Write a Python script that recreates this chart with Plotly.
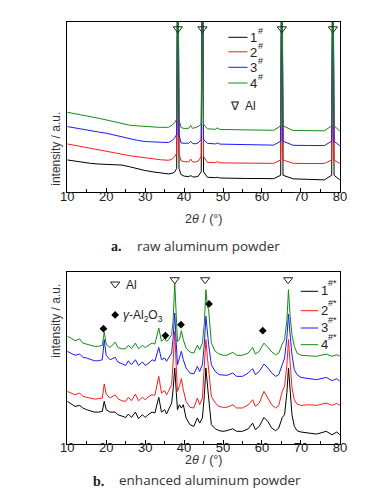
import plotly.graph_objects as go

# ---------------- Panel a: raw aluminum powder ----------------
two_theta_a = [10, 12, 14, 16, 18, 20, 22, 24, 26, 28, 30, 32, 34, 36, 37, 37.6, 38.1, 38.4, 38.7,
               39.2, 40, 41.2, 41.7, 42.2, 43, 43.6, 44.4, 44.7, 45.0, 46, 48, 48.6, 49.2, 52, 56, 60,
               63, 64.8, 65.1, 65.4, 68, 72, 76, 77.9, 78.2, 78.5, 80]
a_1 = [19.0, 18.3, 17.5, 17.0, 16.6, 16.3, 16.2, 16.0, 15.0, 13.8, 12.8, 12.0, 11.3, 10.8, 11.2, 12.0, 14, 160, 14,
       10.5, 9.5, 9.2, 9.8, 9.1, 9.0, 9.4, 12, 160, 12, 8.8, 8.6, 8.8, 8.4, 8.2, 8.1, 8.1,
       8.0, 10, 160, 10, 7.9, 7.6, 7.3, 10, 160, 10, 7.3]
a_2 = [28.4, 27.6, 26.8, 26.0, 25.2, 24.3, 23.3, 22.4, 21.5, 20.8, 20.2, 19.6, 19.1, 18.8, 19.5, 21.0, 23, 160, 23,
       18.5, 18.0, 17.9, 19.5, 17.8, 17.8, 18.3, 21, 160, 21, 17.6, 17.4, 18.0, 17.3, 17.2, 17.1, 17.0,
       17.0, 19, 160, 19, 17.0, 16.9, 16.9, 19, 160, 19, 16.9]
a_3 = [38.6, 37.7, 36.9, 36.1, 35.4, 34.7, 33.6, 32.4, 31.4, 30.5, 29.8, 29.5, 29.2, 29.2, 30.5, 32.0, 34, 160, 34,
       29.0, 28.8, 28.8, 30.0, 28.6, 28.5, 29.0, 31, 160, 31, 28.8, 28.4, 29.0, 28.3, 28.1, 27.9, 27.8,
       27.7, 30, 160, 30, 27.6, 27.5, 27.4, 30, 160, 30, 27.3]
a_4 = [47.0, 46.2, 45.3, 44.5, 43.5, 42.5, 41.4, 40.2, 39.4, 39.0, 38.6, 38.3, 38.1, 38.2, 39.5, 41.0, 43, 160, 43,
       38.0, 37.5, 37.6, 39.2, 37.5, 38.2, 38.6, 40, 160, 40, 37.3, 37.0, 37.8, 36.9, 36.7, 36.6, 36.5,
       36.4, 39, 160, 39, 36.3, 36.2, 36.1, 39, 160, 39, 36.0]
al_peaks_a = [38.4, 44.7, 65.1, 78.2]
al_marker_level_a = [96, 96, 96, 96]

# ---------------- Panel b: enhanced aluminum powder ----------------
two_theta_b = [10, 11, 12, 13.2, 14, 15, 16, 17, 18, 19, 19.5, 20, 21, 22.3, 23, 24, 25, 25.7, 26.5, 27.5,
               28.3, 29.3, 30, 31, 31.8, 32.5, 33.5, 34.2, 35, 35.5, 36, 36.8, 37.2, 37.6, 38.0, 38.3,
               38.8, 39.3, 39.8, 40.5, 41.5, 42.5, 43.4, 44, 44.7, 45.2, 45.6, 46.0, 46.3, 47, 48, 49,
               50, 51, 52.5, 53.5, 55, 56.5, 57.6, 58.3, 59.3, 60.5, 61.5, 62.5, 63.5, 64.3, 65.2, 65.8,
               66.4, 66.8, 67.2, 67.7, 68.3, 69, 70, 72, 74, 76.5, 78, 79.2, 80]
b_4 = [62.5, 61.5, 60.0, 61.0, 58.6, 58.0, 57.3, 56.7, 56.7, 57.3, 65.0, 58.0, 56.0, 59.2, 56.0, 55.3, 55.3, 57.3, 55.3, 58.6,
       55.3, 57.3, 56.0, 57.3, 58.6, 58.0, 67.4, 59.6, 61.5, 59.6, 60.6, 63.5, 72.0, 93.6, 70.0, 59.6,
       60.6, 65.8, 60.6, 55.7, 53.4, 52.8, 57.3, 54.8, 58.6, 70.0, 89.7, 80.0, 78.0, 58.6, 53.8, 52.2,
       51.5, 51.5, 53.2, 51.5, 51.5, 52.8, 56.1, 52.2, 53.8, 58.6, 56.1, 53.4, 51.8, 52.8, 58.0, 60.6,
       72.0, 89.7, 75.0, 63.5, 56.7, 52.8, 51.5, 51.3, 50.9, 52.2, 50.9, 51.8, 50.9]
b_3 = [53.8, 52.8, 51.5, 52.2, 50.3, 49.9, 48.9, 48.3, 48.3, 48.9, 60.6, 51.5, 48.9, 50.3, 47.6, 46.4, 45.6, 48.3, 46.0, 48.9,
       45.6, 47.6, 45.6, 47.0, 48.9, 48.0, 56.1, 48.9, 49.9, 48.0, 49.9, 52.8, 62.0, 76.1, 58.0, 46.0,
       49.9, 53.8, 48.9, 44.1, 41.2, 40.6, 45.0, 42.1, 46.0, 58.0, 74.2, 63.0, 57.7, 46.0, 42.1, 40.2,
       39.8, 39.8, 41.2, 39.2, 39.2, 41.2, 43.7, 40.2, 42.1, 46.4, 44.1, 41.2, 39.2, 40.2, 46.0, 49.9,
       62.0, 75.5, 64.0, 51.8, 43.1, 40.2, 38.6, 37.9, 37.3, 38.6, 36.7, 37.9, 36.3]
b_2 = [30.5, 29.5, 28.5, 29.5, 27.6, 27.0, 26.6, 26.0, 26.2, 26.6, 34.8, 28.9, 26.6, 28.5, 26.2, 25.0, 24.7, 27.0, 25.0, 28.9,
       25.0, 27.0, 25.6, 27.6, 28.5, 28.2, 39.2, 29.5, 30.9, 28.5, 30.5, 34.4, 48.0, 65.4, 44.0, 30.5,
       33.4, 37.9, 31.5, 24.7, 21.2, 20.8, 26.6, 22.7, 26.6, 44.0, 60.6, 50.0, 44.1, 27.6, 23.7, 21.7,
       21.2, 21.2, 22.7, 20.8, 20.8, 22.7, 25.6, 21.7, 23.7, 30.5, 26.6, 22.7, 20.8, 22.3, 30.5, 33.4,
       46.0, 60.6, 48.0, 32.6, 25.6, 23.1, 22.3, 22.7, 22.3, 23.7, 22.3, 23.5, 22.3]
b_1 = [24.7, 23.1, 21.7, 22.3, 20.8, 19.8, 19.2, 18.4, 18.4, 18.8, 24.7, 19.8, 18.4, 18.4, 16.9, 15.9, 15.3, 17.3, 15.3, 18.4,
       14.6, 16.9, 15.3, 17.3, 18.4, 17.9, 27.0, 18.4, 19.8, 17.3, 19.8, 23.7, 32.0, 44.1, 30.0, 19.8,
       22.7, 20.8, 22.7, 15.0, 11.1, 10.1, 15.0, 12.0, 15.0, 28.0, 44.1, 33.0, 26.6, 11.1, 8.7, 7.6,
       7.2, 7.6, 8.7, 7.2, 7.2, 8.7, 12.0, 8.2, 10.1, 15.3, 13.0, 9.1, 7.6, 9.1, 15.3, 16.9,
       30.0, 44.1, 32.0, 16.9, 10.1, 7.6, 6.8, 6.2, 5.6, 7.2, 5.2, 6.8, 5.2]
al_peaks_b = [37.6, 45.4, 66.7]
al_marker_level_b = [95.5, 95.5, 95.5]
alumina_peaks_b = [19.3, 35.2, 39.2, 46.4, 60.2]
alumina_marker_level_b = [67, 63, 69.3, 81.4, 65.8]

series_names = ["1", "2", "3", "4"]
colors = ["#000000", "#ff1a1a", "#1a1aff", "#128c12"]

W, H = 369, 501
def px(x): return x / W
def py(y): return 1 - y / H

fig = go.Figure()
tri = dict(symbol="triangle-down-open", size=8, color="#222", line=dict(width=1))
dia = dict(symbol="diamond", size=6, color="#000")
for ys, c in zip([a_1, a_2, a_3, a_4], colors):
    fig.add_trace(go.Scatter(x=two_theta_a, y=ys, mode="lines", line=dict(color=c, width=1),
                             xaxis="x", yaxis="y", showlegend=False, hoverinfo="skip"))
fig.add_trace(go.Scatter(x=al_peaks_a, y=al_marker_level_a, mode="markers", marker=tri,
                         xaxis="x", yaxis="y", showlegend=False))
for ys, c in zip([b_1, b_2, b_3, b_4], colors):
    fig.add_trace(go.Scatter(x=two_theta_b, y=ys, mode="lines", line=dict(color=c, width=1),
                             xaxis="x2", yaxis="y2", showlegend=False, hoverinfo="skip"))
fig.add_trace(go.Scatter(x=al_peaks_b, y=al_marker_level_b, mode="markers", marker=tri,
                         xaxis="x2", yaxis="y2", showlegend=False))
fig.add_trace(go.Scatter(x=alumina_peaks_b, y=alumina_marker_level_b, mode="markers", marker=dia,
                         xaxis="x2", yaxis="y2", showlegend=False))
# legend symbols inside panel b
fig.add_trace(go.Scatter(x=[22.3], y=[93], mode="markers", marker=tri,
                         xaxis="x2", yaxis="y2", showlegend=False))
fig.add_trace(go.Scatter(x=[22.3], y=[75], mode="markers", marker=dia,
                         xaxis="x2", yaxis="y2", showlegend=False))

axis_font = dict(family="Liberation Sans, Arial", size=13, color="#222")
xcommon = dict(range=[10, 80], tick0=10, dtick=10, ticks="inside", ticklen=4, tickwidth=1, tickcolor="#000",
               showline=True, linecolor="#000", linewidth=1, mirror=True, showgrid=False, zeroline=False,
               tickfont=axis_font, fixedrange=True, ticklabelstandoff=-8,
               minor=dict(ticks="inside", ticklen=3, tick0=15, dtick=10, tickcolor="#000", showgrid=False))
ycommon = dict(range=[0, 100], showticklabels=False, ticks="", showline=True, linecolor="#000", linewidth=1,
               mirror=True, showgrid=False, zeroline=False, fixedrange=True)

dx = [px(54.3), px(337.7)]
fig.update_layout(
    width=W, height=H, margin=dict(l=0, r=0, t=0, b=0),
    paper_bgcolor="white", plot_bgcolor="white",
    xaxis=dict(domain=dx, anchor="y", **xcommon),
    yaxis=dict(domain=[py(184.3), py(14)], anchor="x", **ycommon),
    xaxis2=dict(domain=dx, anchor="y2", **xcommon),
    yaxis2=dict(domain=[py(435.7), py(264)], anchor="x2", **ycommon),
)

ann = []
shapes = []
txt = dict(family="Liberation Sans, Arial", size=12, color="#222")
digit_font = dict(family="Liberation Sans, Arial", size=13, color="#222")
sup_font = dict(family="Liberation Sans, Arial", size=9, color="#222")
# y titles
for yc in [102, 352]:
    ann.append(dict(x=px(33), y=py(yc), xref="paper", yref="paper", text="intensity / a.u.", textangle=-90,
                    showarrow=False, font=dict(family="Liberation Sans, Arial", size=12, color="#333")))
# x titles
for yc in [210.5, 460.5]:
    ann.append(dict(x=px(196), y=py(yc), xref="paper", yref="paper", text="2<i>θ</i> / (°)",
                    showarrow=False, font=dict(family="Liberation Sans, Arial", size=12.5, color="#333")))
# legend a
for name, c, yr in zip(series_names, colors, [29.3, 43.8, 59.3, 75]):
    shapes.append(dict(type="line", xref="paper", yref="paper", x0=px(221.7), x1=px(241.7), y0=py(yr), y1=py(yr),
                       line=dict(color=c, width=1)))
    ann.append(dict(x=px(242.5), y=py(yr + 0.5), xref="paper", yref="paper", xanchor="left", yanchor="middle",
                    text=name, showarrow=False, font=digit_font))
    ann.append(dict(x=px(250), y=py(yr - 6), xref="paper", yref="paper", xanchor="left", yanchor="middle",
                    text="#", showarrow=False, font=sup_font))
ann.append(dict(x=px(221), y=py(89.5), xref="paper", yref="paper", xanchor="left", text="∇  Al",
                showarrow=False, font=txt))
# legend b
for name, c, yr in zip(series_names, colors, [283.3, 302.7, 320, 336.7]):
    shapes.append(dict(type="line", xref="paper", yref="paper", x0=px(297), x1=px(315), y0=py(yr), y1=py(yr),
                       line=dict(color=c, width=1)))
    ann.append(dict(x=px(315.5), y=py(yr - 0.5), xref="paper", yref="paper", xanchor="left", yanchor="middle",
                    text=name, showarrow=False, font=digit_font))
    ann.append(dict(x=px(323), y=py(yr - 8), xref="paper", yref="paper", xanchor="left", yanchor="middle",
                    text="#*", showarrow=False, font=sup_font))
ann.append(dict(x=px(113), y=py(276.7), xref="paper", yref="paper", xanchor="left", text="Al",
                showarrow=False, font=txt))
ann.append(dict(x=px(110), y=py(308), xref="paper", yref="paper", xanchor="left",
                text="<i>γ</i>-Al<sub>2</sub>O<sub>3</sub>", showarrow=False, font=txt))
# captions
cap_font = dict(family="Open Sans", size=13.5, color="#333")
ann.append(dict(x=px(98), y=py(238), xref="paper", yref="paper", xanchor="left", text="<b>a.</b>",
                showarrow=False, font=dict(family="Liberation Serif", size=14, color="#222")))
ann.append(dict(x=px(125), y=py(238), xref="paper", yref="paper", xanchor="left", text="raw aluminum powder",
                showarrow=False, font=cap_font))
ann.append(dict(x=px(79), y=py(483), xref="paper", yref="paper", xanchor="left", text="<b>b.</b>",
                showarrow=False, font=dict(family="Liberation Serif", size=14, color="#222")))
ann.append(dict(x=px(106), y=py(483), xref="paper", yref="paper", xanchor="left", text="enhanced aluminum powder",
                showarrow=False, font=cap_font))

fig.update_layout(annotations=ann, shapes=shapes)
fig.write_html("out.html")
